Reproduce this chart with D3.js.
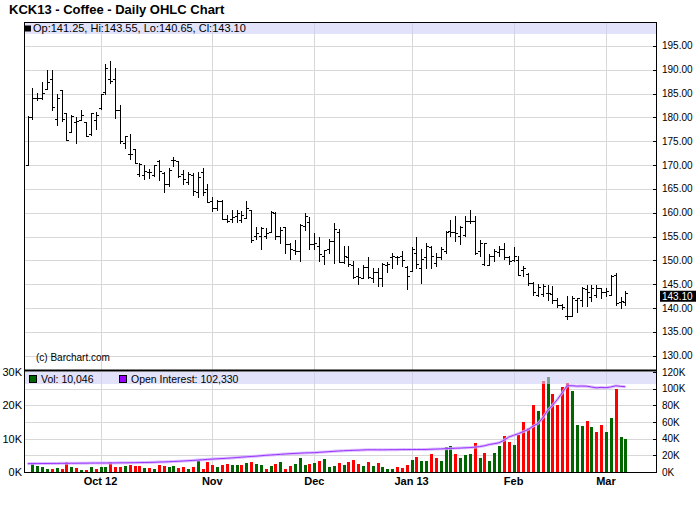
<!DOCTYPE html>
<html><head><meta charset="utf-8">
<script src="https://cdn.jsdelivr.net/npm/d3@7"></script>
<style>
body{margin:0;background:#fff}
svg{display:block}
text{font-family:"Liberation Sans",Arial,sans-serif;fill:#000}
</style>
</head><body>
<svg id="chart" width="700" height="512"></svg>
<script>
// ---------------- data ----------------
const dates = [
"2012-09-10","2012-09-11","2012-09-12","2012-09-13","2012-09-14","2012-09-17","2012-09-18","2012-09-19","2012-09-20","2012-09-21",
"2012-09-24","2012-09-25","2012-09-26","2012-09-27","2012-09-28",
"2012-10-01","2012-10-02","2012-10-03","2012-10-04","2012-10-05","2012-10-08","2012-10-09","2012-10-10","2012-10-11","2012-10-12",
"2012-10-15","2012-10-16","2012-10-17","2012-10-18","2012-10-19","2012-10-22","2012-10-23","2012-10-24","2012-10-25","2012-10-26",
"2012-10-29","2012-10-30","2012-10-31",
"2012-11-01","2012-11-02","2012-11-05","2012-11-06","2012-11-07","2012-11-08","2012-11-09","2012-11-12","2012-11-13","2012-11-14",
"2012-11-15","2012-11-16","2012-11-19","2012-11-20","2012-11-21","2012-11-23","2012-11-26","2012-11-27","2012-11-28","2012-11-29","2012-11-30",
"2012-12-03","2012-12-04","2012-12-05","2012-12-06","2012-12-07","2012-12-10","2012-12-11","2012-12-12","2012-12-13","2012-12-14",
"2012-12-17","2012-12-18","2012-12-19","2012-12-20","2012-12-21","2012-12-24","2012-12-26","2012-12-27","2012-12-28","2012-12-31",
"2013-01-02","2013-01-03","2013-01-04","2013-01-07","2013-01-08","2013-01-09","2013-01-10","2013-01-11","2013-01-14","2013-01-15",
"2013-01-16","2013-01-17","2013-01-18","2013-01-22","2013-01-23","2013-01-24","2013-01-25","2013-01-28","2013-01-29","2013-01-30","2013-01-31",
"2013-02-01","2013-02-04","2013-02-05","2013-02-06","2013-02-07","2013-02-08","2013-02-11","2013-02-12","2013-02-13","2013-02-14",
"2013-02-15","2013-02-19","2013-02-20","2013-02-21","2013-02-22","2013-02-25","2013-02-26","2013-02-27","2013-02-28",
"2013-03-01","2013-03-04","2013-03-05","2013-03-06","2013-03-07"];

const open = [170.0,180.0,184.0,184.0,186.0,188.0,179.7,185.7,181.0,176.9, 179.0,179.5,179.0,176.6,179.4,182.0,185.3,188.1,188.0,181.5,
174.7,172.4,173.4,168.2,168.0,168.5,168.0,170.8,168.4,166.1, 171.0,170.8,168.2,166.5,168.0,164.3,168.6,164.9,162.5,161.0,
162.5,158.7,158.7,159.2,158.5,158.9,160.6,155.2,155.2,155.2, 156.0,160.0,155.2,156.9,153.5,152.2,152.0,157.2,158.0,153.5,
153.0,151.0,152.3,154.0,156.0,149.7,150.8,149.0,146.7,146.4, 148.7,146.4,147.5,146.4,149.0,150.6,150.6,150.9,148.7,147.8,
151.5,148.3,150.6,152.9,149.5,150.8,152.0,156.2,155.9,155.2, 155.4,158.3,158.3,152.0,149.2,149.1,150.9,151.8,152.3,150.6,
150.0,150.0,147.9,147.2,145.3,142.8,143.0,143.2,143.0,141.6, 140.6,138.3,138.3,141.6,141.6,143.9,142.3,142.7,144.1,143.4,
142.8,146.9,141.2,141.25];
const high = [180.2,186.2,185.2,187.5,190.0,190.0,185.0,185.7,181.0,180.5, 180.0,181.5,179.0,181.0,181.2,185.0,191.2,191.9,190.3,182.5,
176.1,176.6,173.4,170.5,170.0,169.1,170.1,171.0,168.6,169.4, 171.7,170.8,168.9,168.5,168.3,168.6,169.3,166.1,163.3,162.7,
162.7,159.5,160.6,160.6,160.4,162.5,160.6,157.0,157.1,156.8, 160.3,160.2,156.9,157.0,153.7,154.2,157.6,160.0,159.0,155.8,
154.8,152.2,154.4,157.8,156.6,153.0,153.0,149.9,148.5,149.0, 150.7,148.5,148.5,149.5,149.6,151.5,151.0,152.0,148.8,152.7,
154.8,152.3,153.7,153.0,151.6,152.7,156.2,158.5,159.2,157.3, 159.2,160.6,159.2,154.3,153.7,151.3,152.4,153.1,153.6,150.9,
152.8,151.0,148.8,147.4,145.5,145.1,145.1,144.8,144.6,142.0, 140.9,142.5,142.5,142.1,144.4,144.8,144.9,144.9,144.2,144.1,
147.0,147.4,142.3,143.55];
const low = [170.0,179.6,183.6,183.9,186.0,181.5,178.4,179.3,175.3,176.9, 174.7,179.5,176.0,176.4,177.6,181.7,184.9,187.1,179.8,174.7,
173.6,171.2,170.5,167.7,167.0,167.2,167.7,166.8,164.4,165.6, 169.7,167.5,166.0,166.1,163.8,163.3,163.7,162.2,160.3,160.6,
158.6,158.0,158.0,158.1,158.1,158.9,153.8,154.5,152.4,154.7, 156.0,154.5,153.7,151.6,150.3,151.3,149.9,156.3,152.3,152.4,
149.9,149.2,151.6,149.5,149.6,149.5,148.8,146.2,145.0,146.4, 146.4,145.5,144.6,144.6,147.6,148.5,149.2,148.8,144.0,147.8,
148.3,145.3,148.5,148.3,148.8,150.3,151.6,155.2,154.0,153.4, 155.2,157.9,151.3,151.0,149.0,149.0,149.9,150.9,150.2,149.3,
149.8,146.9,146.7,144.9,142.7,142.5,142.5,141.6,141.1,140.2, 139.7,137.6,138.3,139.2,140.4,140.4,141.4,142.3,142.1,142.5,
142.7,140.6,140.0,140.65];
const close = [180.0,184.0,184.0,185.2,187.5,182.2,184.0,179.7,175.3,180.2, 179.2,180.4,176.1,181.0,180.4,184.8,190.4,187.6,181.6,175.0,
176.0,172.3,170.5,170.3,168.8,168.5,170.0,168.8,166.1,168.9, 171.0,167.7,167.0,168.2,164.5,167.5,164.4,162.2,161.0,162.5,
158.6,158.2,159.0,160.0,159.6,161.0,154.2,155.7,156.8,155.8, 160.2,155.2,156.4,153.5,152.4,152.0,157.5,159.2,153.4,153.6,
151.3,152.1,154.0,156.5,149.7,150.9,149.2,146.6,146.6,148.7, 146.6,147.5,146.4,149.2,149.3,150.9,150.7,150.0,146.7,152.3,
149.2,150.3,153.0,150.9,150.8,152.3,156.0,156.0,155.8,157.0, 158.3,158.3,151.5,153.7,153.6,150.9,152.0,152.4,150.6,149.9,
151.0,147.0,148.4,145.3,143.4,144.4,144.6,143.2,141.6,140.7, 140.2,138.3,142.0,142.0,144.1,143.4,144.2,144.1,143.4,143.5,
146.7,141.1,141.4,143.10];

const volume = [0,2700,1700,1400,800,800,1100,800,2900,1400, 1100,700,500,1400,800,1400,1400,2900,1400,1400,
1700,2000,1700,1700,1100,1100,800,2000,1700,1400, 1700,1100,1400,800,1400,3200,800,2900,2000,1400,
2000,2300,2000,2000,2000,2600,2900,2300,2000,800, 1700,2300,2900,800,1700,2300,4100,2000,2300,2600,
3200,3800,1400,1700,2600,2000,2900,3500,2300,1700, 2900,1700,2600,1400,800,800,1400,1100,2000,3500,
4400,3200,3200,5300,4100,3200,7400,7700,5300,4100, 5000,5300,8600,4100,5600,3200,5600,7700,10900,8900,
8000,11200,15100,13300,20200,18400,27400,28600,23400,20200, 25600,26800,24400,14200,13900,15400,13600,12100,14200,12100,
16300,25000,10600,10046];
const volumeDir = ("g"+"ggggrgrrgr"+"grgrggrrrg"+"rrrgrgrrgg"+"rrgrgrrrgr"+"rggrgrggrg"+"rgrrgggrgr"+"gggrgr"+
  "rrgrgrgggr"+"rrgrggrrgg"+"grgggrgrgg"+"grrgrrrrgr"+"grrrrgggrg"+"rrggrgg").split("");

const openInterest = [10000,10100,10100,10200,10200,10300,10300,10400,10400,10500, 10500,10600,10600,10700,10700,10800,10800,10900,10900,11000,
11000,11100,11200,11300,11400,11500,11700,11900,12100,12300, 12600,12900,13200,13500,13900,14300,14700,15100,15500,15800,
16100,16500,16900,17300,17800,18200,18600,19000,19500,20000, 20400,20800,21200,21600,22000,22300,22600,22900,23000,23200,
23600,24000,24400,24800,25200,25500,25800,26000,26200,26500, 26700,26700,26600,26600,26700,26800,26800,26900,26900,27000,
27000,27000,27100,27300,27500,27700,28000,28300,28500,28700, 29000,29300,29800,30500,31500,33000,34000,35000,38000,42000,
44000,46000,48500,51000,55000,58000,65000,74000,80000,87000, 95000,103500,103500,103000,103200,103000,102000,101000,101500,101200,
102000,103500,102800,102330];

const priceTicks = [195,190,185,180,175,170,165,160,155,150,145,140,135,130];
const monthDates = ["2012-10-01","2012-11-01","2012-12-03","2013-01-02","2013-02-01","2013-03-01"];
const monthLabels = ["Oct 12","Nov","Dec","Jan 13","Feb","Mar"];
const volTicks = [0,10000,20000,30000];
const volTickLabels = ["0K","10K","20K","30K"];
const oiTicks = [0,20000,40000,60000,80000,100000,120000];
const oiTickLabels = ["0K","20K","40K","60K","80K","100K","120K"];

// ---------------- layout ----------------
const svg = d3.select("#chart");
const L = 24, R = 657;
const mainTop = 22, mainBot = 370;
const volTop = 372, volBot = 472;

const x = d3.scalePoint().domain(dates).range([27.6, 625.4]);
const y = d3.scaleLinear().domain([127, 200]).range([mainBot, mainTop]);
const vy = d3.scaleLinear().domain([0, 30000]).range([volBot, volTop]);
const oy = d3.scaleLinear().domain([0, 120000]).range([volBot, volTop]);
const px = v => Math.round(v) + 0.5;

svg.append("rect").attr("width",700).attr("height",512).attr("fill","#fff");

// title
svg.append("text").attr("x",9).attr("y",13.5).attr("font-size","13px").attr("font-weight","bold")
  .text("KCK13 - Coffee - Daily OHLC Chart");

// ---------------- main panel ----------------
const grid = svg.append("g").attr("stroke","#d8d8d8").attr("stroke-width",1).attr("shape-rendering","crispEdges");
grid.selectAll(".hg").data(priceTicks).join("line")
  .attr("x1",L).attr("x2",R).attr("y1",d=>px(y(d))).attr("y2",d=>px(y(d)));
grid.selectAll(".vg").data(monthDates).join("line")
  .attr("x1",d=>px(x(d))).attr("x2",d=>px(x(d))).attr("y1",mainTop).attr("y2",mainBot);
grid.selectAll(".vg2").data(monthDates).join("line")
  .attr("x1",d=>px(x(d))).attr("x2",d=>px(x(d))).attr("y1",volTop).attr("y2",volBot);
grid.selectAll(".hg2").data(oiTicks.slice(1,6)).join("line")
  .attr("x1",L).attr("x2",R).attr("y1",d=>px(oy(d))).attr("y2",d=>px(oy(d)));

const bars = svg.append("g").attr("stroke","#000").attr("stroke-width",1).attr("shape-rendering","crispEdges");
dates.forEach((d,i)=>{
  const cx = px(x(d));
  bars.append("line").attr("x1",cx).attr("x2",cx).attr("y1",Math.round(y(high[i]))).attr("y2",Math.round(y(low[i]))+1);
  bars.append("line").attr("x1",cx-2.5).attr("x2",cx).attr("y1",px(y(open[i]))).attr("y2",px(y(open[i])));
  bars.append("line").attr("x1",cx).attr("x2",cx+2.5).attr("y1",px(y(close[i]))).attr("y2",px(y(close[i])));
});

// header band (main)
svg.append("rect").attr("x",L).attr("y",mainTop).attr("width",R-L).attr("height",12)
  .attr("fill","rgb(207,207,248)").attr("opacity",0.6);
svg.append("rect").attr("x",25).attr("y",25.5).attr("width",6).attr("height",6).attr("fill","#000");
const last = dates.length-1;
svg.append("text").attr("x",33).attr("y",31.5).attr("font-size","11px")
  .text(`Op:${open[last].toFixed(2)}, Hi:${high[last].toFixed(2)}, Lo:${low[last].toFixed(2)}, Cl:${close[last].toFixed(2)}`);

svg.append("text").attr("x",36).attr("y",361).attr("font-size","10px").text("(c) Barchart.com");

// right axis main
const lastY = y(close[last]) + 3;
const ra = svg.append("g");
priceTicks.forEach(t=>{
  ra.append("line").attr("x1",R-4).attr("x2",R).attr("y1",px(y(t))).attr("y2",px(y(t)))
    .attr("stroke","#000").attr("shape-rendering","crispEdges");
  if (Math.abs(y(t)-lastY) > 9)
    ra.append("text").attr("x",662).attr("y",y(t)).attr("dy","0.35em").attr("font-size","10px").text(t.toFixed(2));
});
svg.append("rect").attr("x",660).attr("y",lastY-5.5).attr("width",36).attr("height",11).attr("fill","#000");
svg.append("text").attr("x",662).attr("y",lastY).attr("dy","0.35em").attr("font-size","10px")
  .style("fill","#fff").text(close[last].toFixed(2));

// main frame
svg.append("rect").attr("x",L+0.5).attr("y",mainTop+0.5).attr("width",R-L-1).attr("height",mainBot-mainTop)
  .attr("fill","none").attr("stroke","#000").attr("shape-rendering","crispEdges");

// ---------------- volume panel ----------------
const vb = svg.append("g").attr("shape-rendering","crispEdges");
dates.forEach((d,i)=>{
  if (!volume[i]) return;
  const cx = Math.round(x(d));
  vb.append("rect").attr("x",cx-1).attr("y",vy(volume[i])).attr("width",3).attr("height",volBot-vy(volume[i]))
    .attr("fill", volumeDir[i]==="g" ? "#006600" : "#ff0000");
});

const oiLine = d3.line().x((d,i)=>x(dates[i])).y(d=>oy(d));
svg.append("path").datum(openInterest).attr("d",oiLine).attr("fill","none")
  .attr("stroke","#d4b0ff").attr("stroke-width",3).attr("opacity",0.8);
svg.append("path").datum(openInterest).attr("d",oiLine).attr("fill","none")
  .attr("stroke","#9933ff").attr("stroke-width",1);

// volume header band
svg.append("rect").attr("x",L).attr("y",volTop).attr("width",R-L).attr("height",12)
  .attr("fill","rgb(207,207,248)").attr("opacity",0.6);
svg.append("rect").attr("x",29.5).attr("y",375.5).attr("width",7).attr("height",7).attr("fill","#006600").attr("stroke","#000");
svg.append("text").attr("x",41).attr("y",382.5).attr("font-size","10.5px").text("Vol: " + d3.format(",")(volume[last]));
svg.append("rect").attr("x",119.5).attr("y",375.5).attr("width",7).attr("height",7).attr("fill","#9900ff").attr("stroke","#000");
svg.append("text").attr("x",131).attr("y",382.5).attr("font-size","10.5px").text("Open Interest: " + d3.format(",")(openInterest[last]));

// volume frame
svg.append("rect").attr("x",L+0.5).attr("y",volTop-1.5).attr("width",R-L-1).attr("height",volBot-volTop+1.5)
  .attr("fill","none").attr("stroke","#000").attr("shape-rendering","crispEdges");
svg.append("line").attr("x1",L).attr("x2",R).attr("y1",370.5).attr("y2",370.5).attr("stroke","#000").attr("stroke-width",2);

// left axis labels (volume)
volTicks.forEach((t,i)=>{
  svg.append("text").attr("x",22).attr("y",vy(t)).attr("dy","0.35em").attr("text-anchor","end")
    .attr("font-size","11px").text(volTickLabels[i]);
});
// right axis (open interest)
oiTicks.forEach((t,i)=>{
  svg.append("line").attr("x1",R-4).attr("x2",R).attr("y1",px(oy(t))).attr("y2",px(oy(t)))
    .attr("stroke","#000").attr("shape-rendering","crispEdges");
  svg.append("text").attr("x",662).attr("y",oy(t)).attr("dy","0.35em").attr("font-size","10px").text(oiTickLabels[i]);
});
// x axis labels
monthDates.forEach((d,i)=>{
  svg.append("text").attr("x",x(d)).attr("y",485).attr("text-anchor","middle")
    .attr("font-size","11px").attr("font-weight","bold").text(monthLabels[i]);
});
</script>
</body></html>
